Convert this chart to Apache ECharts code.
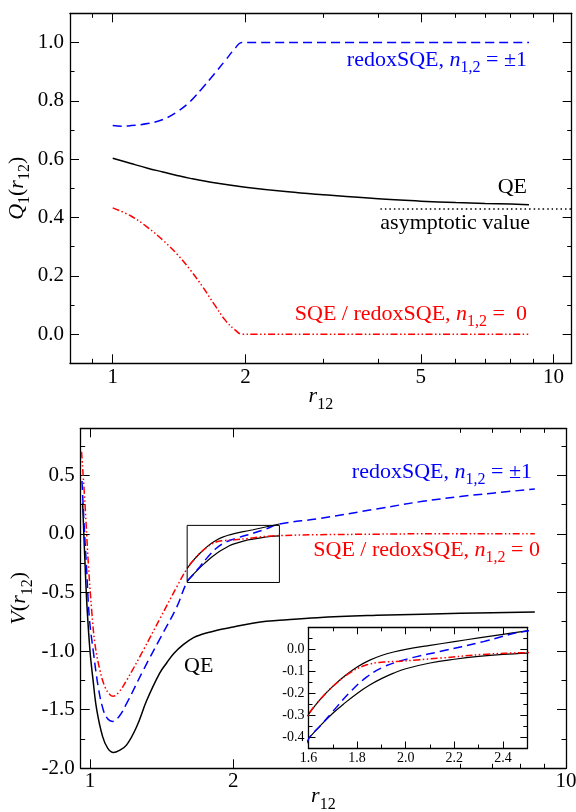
<!DOCTYPE html>
<html>
<head>
<meta charset="utf-8">
<script src="https://cdn.jsdelivr.net/npm/echarts@6/dist/echarts.min.js"></script>
<style>
  html, body { margin: 0; padding: 0; background: #fff; }
  #chart { width: 576px; height: 812px; }
</style>
</head>
<body>
<div id="chart"></div>
<script>
// ---- upper panel: Q1(r12), points are [r12, Q1]
var qeQ = [[1.0,0.603],[1.1,0.585],[1.2,0.569],[1.3,0.556],[1.4,0.544],[1.5,0.534],[1.7,0.519],[2.0,0.504],
           [2.5,0.488],[3.0,0.478],[4.0,0.464],[5.0,0.456],[6.0,0.451],[7.0,0.448],[8.0,0.446],[8.8,0.444]];
var redoxQ = [[1.0,0.715],[1.05,0.713],[1.1,0.715],[1.2,0.722],[1.3,0.736],[1.4,0.762],[1.5,0.798],[1.6,0.845],
              [1.7,0.892],[1.8,0.938],[1.9,0.982],[1.96,1.0],[2.1,1.0],[3.0,1.0],[8.8,1.0]];
var sqeQ = [[1.0,0.433],[1.1,0.405],[1.2,0.366],[1.3,0.322],[1.4,0.274],[1.5,0.22],[1.6,0.162],[1.7,0.102],
            [1.8,0.048],[1.9,0.013],[1.96,0.0],[2.1,0.0],[3.0,0.0],[8.8,0.0]];
var asymQ = [[4.05,0.429],[11,0.429]];

// ---- lower panel: V(r12), points are [r12, V]
var qeV = [[0.965,0.26],[0.975,-0.2],[0.985,-0.6],[1.0,-1.0],[1.015,-1.25],[1.033,-1.5],[1.063,-1.73],[1.09,-1.83],
           [1.12,-1.865],[1.15,-1.85],[1.194,-1.80],[1.253,-1.646],[1.316,-1.42],[1.40,-1.19],[1.45,-1.10],[1.5,-1.02],
           [1.57,-0.945],[1.65,-0.885],[1.72,-0.857],[1.8,-0.835],[1.9,-0.812],[2.0,-0.795],[2.28,-0.752],[2.5,-0.738],
           [3,-0.715],[4,-0.695],[5,-0.685],[6,-0.678],[7,-0.673],[8.6,-0.667]];
var redoxV = [[0.962,0.45],[0.971,0.11],[0.984,-0.31],[0.997,-0.72],[1.016,-1.0],[1.041,-1.31],[1.066,-1.50],[1.09,-1.58],
              [1.116,-1.60],[1.15,-1.56],[1.194,-1.447],[1.294,-1.163],[1.403,-0.894],[1.521,-0.625],[1.6,-0.408],[1.65,-0.345],
              [1.7,-0.282],[1.77,-0.195],[1.84,-0.125],[1.908,-0.08],[1.977,-0.053],[2.045,-0.033],[2.14,-0.01],[2.32,0.035],
              [2.5,0.083],[3,0.128],[4,0.212],[5,0.277],[6,0.318],[7,0.347],[8.6,0.382]];
var sqeV = [[0.96,0.70],[0.976,0.255],[0.992,-0.255],[1.008,-0.65],[1.024,-0.936],[1.049,-1.163],[1.075,-1.306],[1.10,-1.37],
            [1.119,-1.385],[1.15,-1.35],[1.194,-1.249],[1.294,-0.993],[1.403,-0.723],[1.521,-0.454],[1.6,-0.295],[1.65,-0.225],
            [1.7,-0.168],[1.77,-0.107],[1.84,-0.07],[1.908,-0.058],[1.977,-0.054],[2.045,-0.048],[2.14,-0.04],[2.32,-0.023],
            [2.5,-0.015],[3,-0.008],[4,-0.003],[5,0],[8.6,0]];
var upperV = [[1.6,-0.295],[1.65,-0.225],[1.7,-0.168],[1.75,-0.12],[1.8,-0.08],[1.85,-0.05],[1.9,-0.028],[1.95,-0.012],
              [2.0,0.0],[2.1,0.018],[2.2,0.035],[2.3,0.052],[2.4,0.068],[2.5,0.084]];
var lowerV = [[1.6,-0.405],[1.65,-0.345],[1.7,-0.29],[1.75,-0.243],[1.8,-0.2],[1.85,-0.163],[1.9,-0.133],[1.95,-0.108],
              [2.0,-0.088],[2.1,-0.062],[2.2,-0.045],[2.3,-0.032],[2.4,-0.023],[2.5,-0.017]];
var zoomBox = [[1.6,-0.415],[2.5,-0.415],[2.5,0.072],[1.6,0.072],[1.6,-0.415]];

// ---- tick values
var topXLabels = [1, 2, 5, 10];
var topXMinor = [0.9, 3, 4, 6, 7, 8, 9];
var topYLabels = [0, 0.2, 0.4, 0.6, 0.8, 1.0];
var topYMinor = [0.1, 0.3, 0.5, 0.7, 0.9];
var botXLabels = [1, 2, 10];
var botXMinor = [6, 7, 8, 9];
var botYLabels = [-2, -1.5, -1, -0.5, 0, 0.5];
var botYMinor = [-1.75, -1.25, -0.75, -0.25, 0.25, 0.75];
var insXLabels = [1.6, 1.8, 2.0, 2.2, 2.4];
var insXMinor = [1.7, 1.9, 2.1, 2.3];
var insYLabels = [-0.4, -0.3, -0.2, -0.1, 0];
var insYMinor = [-0.35, -0.25, -0.15, -0.05, 0.05];

var FONT = 'Liberation Serif';
var BLUE = '#0000ff', RED = '#ff0000';
var lg = function (r) { return Math.log10(r); };
var logPts = function (pts) { return pts.map(function (p) { return [lg(p[0]), p[1]]; }); };

function rich(color) {
  return {
    a: { color: color, fontFamily: FONT, fontSize: 22, lineHeight: 32 },
    i: { color: color, fontFamily: FONT, fontSize: 22, fontStyle: 'italic', lineHeight: 32 },
    s: { color: color, fontFamily: FONT, fontSize: 16, lineHeight: 16, verticalAlign: 'bottom' }
  };
}

// four axes per side pair: labelled major, minor, mirrored major, mirrored minor
function frame(dim, grid, lim, major, minor, labels, st) {
  var sides = dim === 'x' ? ['bottom', 'top'] : ['left', 'right'];
  var out = [];
  sides.forEach(function (side, k) {
    [[major, st.major], [minor, st.minor]].forEach(function (t, j) {
      var ax = {
        gridIndex: grid, type: 'value', position: side, min: lim[0], max: lim[1],
        splitLine: { show: false },
        axisLine: { show: j === 0, onZero: false, lineStyle: { color: '#000', width: 1.3 } },
        axisTick: { show: true, inside: true, length: t[1], customValues: t[0], lineStyle: { color: '#000', width: 1 } },
        axisLabel: { show: false }
      };
      if (k === 0 && j === 0) {
        ax.axisLabel = { show: true, customValues: labels, formatter: st.fmt, margin: st.margin,
                         color: '#000', fontFamily: FONT, fontSize: st.fs };
        if (st.name) {
          ax.name = st.name;
          ax.nameLocation = 'middle';
          ax.nameGap = st.gap;
          ax.nameMoveOverlap = false;
          ax.nameTextStyle = { color: '#000', fontFamily: FONT, fontSize: 22, rich: rich('#000') };
        }
      }
      out.push(ax);
    });
  });
  return out;
}

var fmtLog = function (v) { return String(Math.round(Math.pow(10, v))); };
var fmt1 = function (v) { return v.toFixed(1); };

var xAxes = [].concat(
  frame('x', 0, [lg(0.8), lg(11)], topXLabels.map(lg), topXMinor.map(lg), topXLabels.map(lg),
        { major: 9, minor: 4.5, fmt: fmtLog, margin: 4, fs: 21, name: '{i|r}{s|12}', gap: 17 }),
  frame('x', 1, [lg(0.956), lg(10)], botXLabels.map(lg), botXMinor.map(lg), botXLabels.map(lg),
        { major: 9, minor: 4.5, fmt: fmtLog, margin: 3, fs: 21, name: '{i|r}{s|12}', gap: 12 }),
  frame('x', 2, [1.6, 2.5], insXLabels, insXMinor, insXLabels,
        { major: 7, minor: 4, fmt: fmt1, margin: 3, fs: 14 })
);
var yAxes = [].concat(
  frame('y', 0, [-0.1, 1.1], topYLabels, topYMinor, topYLabels,
        { major: 9, minor: 4.5, fmt: fmt1, margin: 6, fs: 21, name: '{i|Q}{s|1}{a|(}{i|r}{s|12}{a|)}', gap: 37 }),
  frame('y', 1, [-2.0, 0.9], botYLabels, botYMinor, botYLabels,
        { major: 9, minor: 4.5, fmt: fmt1, margin: 6, fs: 21, name: '{i|V}{a|(}{i|r}{s|12}{a|)}', gap: 45 }),
  frame('y', 2, [-0.45, 0.1], insYLabels, insYMinor, insYLabels,
        { major: 7, minor: 4, fmt: fmt1, margin: 4, fs: 14 })
);

function line(grid, pts, color, type, log, width) {
  return {
    type: 'line', xAxisIndex: grid * 4, yAxisIndex: grid * 4,
    data: log ? logPts(pts) : pts,
    showSymbol: false, smooth: 0.4, silent: true,
    lineStyle: { color: color, width: width || 1.5, type: type }
  };
}

var SOLID = 'solid', DASH = [9, 5], DDOT = [7, 2.5, 1.5, 2.5, 1.5, 2.5], DOT = [1.5, 3];

var series = [
  line(0, qeQ, '#000', SOLID, true),
  line(0, redoxQ, BLUE, DASH, true),
  line(0, sqeQ, RED, DDOT, true),
  line(0, asymQ, '#000', DOT, true, 1.3),

  line(1, qeV, '#000', SOLID, true),
  line(1, upperV, '#000', SOLID, true, 1.2),
  line(1, lowerV, '#000', SOLID, true, 1.2),
  line(1, redoxV, BLUE, DASH, true),
  line(1, sqeV, RED, DDOT, true),
  { type: 'line', xAxisIndex: 4, yAxisIndex: 4, data: logPts(zoomBox), showSymbol: false, silent: true,
    lineStyle: { color: '#000', width: 1 } },

  line(2, upperV, '#000', SOLID, false, 1.2),
  line(2, lowerV, '#000', SOLID, false, 1.2),
  line(2, redoxV, BLUE, DASH, false),
  line(2, sqeV, RED, DDOT, false)
];

function note(x, y, align, color, text) {
  return { type: 'text', x: x, y: y, z: 100, silent: true,
           style: { text: text, rich: rich(color), fill: color, align: align, verticalAlign: 'middle' } };
}

var chart = echarts.init(document.getElementById('chart'));
chart.setOption({
  animation: false,
  backgroundColor: '#fff',
  grid: [
    { left: 70, top: 13.3, width: 501.7, height: 350, outerBoundsMode: 'none' },
    { left: 80.7, top: 428.3, width: 485.3, height: 340, outerBoundsMode: 'none' },
    { left: 308.5, top: 627.3, width: 218.8, height: 121.2, outerBoundsMode: 'none',
      show: true, backgroundColor: '#fff', borderWidth: 0 }
  ],
  xAxis: xAxes,
  yAxis: yAxes,
  series: series,
  graphic: [
    note(527, 60, 'right', BLUE, '{a|redoxSQE, }{i|n}{s|1,2}{a| = ±1}'),
    note(527, 187, 'right', '#000', '{a|QE}'),
    note(530, 223, 'right', '#000', '{a|asymptotic value}'),
    note(527, 314, 'right', RED, '{a|SQE / redoxSQE, }{i|n}{s|1,2}{a| =  0}'),
    note(532, 472, 'right', BLUE, '{a|redoxSQE, }{i|n}{s|1,2}{a| = ±1}'),
    note(540, 550, 'right', RED, '{a|SQE / redoxSQE, }{i|n}{s|1,2}{a| = 0}'),
    note(184, 666, 'left', '#000', '{a|QE}')
  ]
});
</script>
</body>
</html>
